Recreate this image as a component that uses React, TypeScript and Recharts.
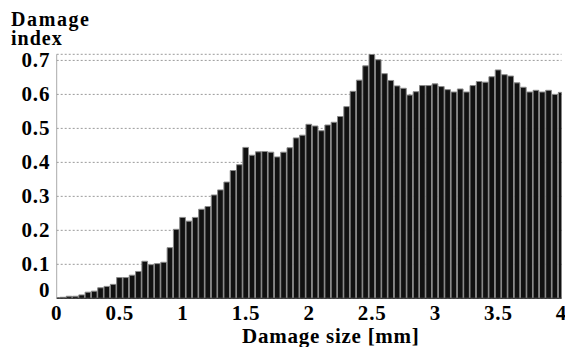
import React from 'react';
import { BarChart, Bar, XAxis, YAxis, CartesianGrid, Label } from 'recharts';

const sizes = [
  0, 0.05, 0.1, 0.15, 0.2, 0.25, 0.3, 0.35, 0.4, 0.45,
  0.5, 0.55, 0.6, 0.65, 0.7, 0.75, 0.8, 0.85, 0.9, 0.95,
  1.0, 1.05, 1.1, 1.15, 1.2, 1.25, 1.3, 1.35, 1.4, 1.45,
  1.5, 1.55, 1.6, 1.65, 1.7, 1.75, 1.8, 1.85, 1.9, 1.95,
  2.0, 2.05, 2.1, 2.15, 2.2, 2.25, 2.3, 2.35, 2.4, 2.45,
  2.5, 2.55, 2.6, 2.65, 2.7, 2.75, 2.8, 2.85, 2.9, 2.95,
  3.0, 3.05, 3.1, 3.15, 3.2, 3.25, 3.3, 3.35, 3.4, 3.45,
  3.5, 3.55, 3.6, 3.65, 3.7, 3.75, 3.8, 3.85, 3.9, 3.95,
  4.0,
];

const damageIndex = [
  0.002, 0.003, 0.006, 0.006, 0.010, 0.018, 0.021, 0.031, 0.035, 0.041,
  0.061, 0.061, 0.068, 0.079, 0.109, 0.099, 0.102, 0.106, 0.149, 0.203,
  0.238, 0.227, 0.238, 0.262, 0.270, 0.304, 0.319, 0.342, 0.376, 0.393,
  0.444, 0.421, 0.431, 0.432, 0.430, 0.416, 0.430, 0.443, 0.472, 0.480,
  0.512, 0.507, 0.493, 0.510, 0.518, 0.535, 0.564, 0.609, 0.642, 0.684,
  0.718, 0.702, 0.661, 0.641, 0.625, 0.618, 0.598, 0.608, 0.626, 0.626,
  0.631, 0.623, 0.614, 0.607, 0.616, 0.607, 0.626, 0.638, 0.636, 0.652,
  0.672, 0.658, 0.654, 0.634, 0.621, 0.607, 0.612, 0.607, 0.612, 0.600,
  0.606,
];

const xTicks = [0, 0.5, 1, 1.5, 2, 2.5, 3, 3.5, 4];
const yTicks = [0, 0.1, 0.2, 0.3, 0.4, 0.5, 0.6, 0.7];

const data = sizes.map((s, i) => ({ size: s, value: damageIndex[i] }));

const FONT = '"Liberation Serif", "Times New Roman", serif';

const YTick = (props: any) => {
  const { x, y, payload } = props;
  const dy = payload.value === 0 ? -1 : 7;
  return (
    <text x={x} y={y + dy} textAnchor="end" fontFamily={FONT} fontWeight="bold" fontSize={21} letterSpacing={0.8} fill="#000">
      {String(payload.value)}
    </text>
  );
};

const XTick = (props: any) => {
  const { x, y, payload } = props;
  return (
    <text x={x} y={y + 14} textAnchor="middle" fontFamily={FONT} fontWeight="bold" fontSize={21} letterSpacing={0.8} fill="#000">
      {String(payload.value)}
    </text>
  );
};

const YTitle = () => (
  <g>
    <text x={11} y={26} fontFamily={FONT} fontWeight="bold" fontSize={20} letterSpacing={1.6} fill="#000">Damage</text>
    <text x={11} y={45} fontFamily={FONT} fontWeight="bold" fontSize={20} letterSpacing={1} fill="#000">index</text>
  </g>
);

const XTitle = () => (
  <text x={242} y={343} fontFamily={FONT} fontWeight="bold" fontSize={21} letterSpacing={0.75} fill="#000">
    Damage size [mm]
  </text>
);

export default function App() {
  return (
    <div style={{ position: 'absolute', left: 0, top: 0, width: 565, height: 347, background: '#fff' }}>
      <BarChart
        width={565}
        height={347}
        data={data}
        margin={{ top: 54.3, right: 3.5, left: 0, bottom: 0 }}
        barCategoryGap={0}
        barGap={0}
      >
        <CartesianGrid vertical={false} stroke="#9a9a9a" strokeDasharray="2 2" yAxisId="left" />
        <XAxis
          dataKey="size"
          type="number"
          domain={[0, 4]}
          ticks={xTicks}
          allowDataOverflow
          height={48.7}
          tickSize={6}
          tickMargin={2}
          tickLine={false}
          axisLine={{ stroke: '#222' }}
          tick={<XTick />}
          interval={0}
        >
          <Label content={<XTitle />} />
        </XAxis>
        <XAxis
          xAxisId="top"
          orientation="top"
          dataKey="size"
          type="number"
          domain={[0, 4]}
          ticks={xTicks}
          allowDataOverflow
          height={0}
          mirror
          tickSize={4}
          tickFormatter={() => ''}
          axisLine={{ stroke: '#aaa' }}
          tickLine={{ stroke: '#999' }}
        />
        <YAxis
          yAxisId="left"
          type="number"
          domain={[0, 0.718]}
          ticks={yTicks}
          allowDataOverflow
          width={56.7}
          tickSize={6}
          tickMargin={0.5}
          tickLine={false}
          axisLine={{ stroke: '#aaa' }}
          tick={<YTick />}
          interval={0}
        >
          <Label content={<YTitle />} />
        </YAxis>
        <YAxis
          yAxisId="right"
          orientation="right"
          type="number"
          domain={[0, 0.718]}
          ticks={yTicks}
          allowDataOverflow
          width={0}
          mirror
          tickSize={3}
          tickFormatter={() => ''}
          axisLine={{ stroke: '#aaa' }}
          tickLine={{ stroke: '#aaa' }}
        />
        <Bar
          dataKey="value"
          yAxisId="left"
          fill="#111"
          stroke="#8a8a8a"
          strokeWidth={1}
          barSize={6.31}
          isAnimationActive={false}
        />
      </BarChart>
    </div>
  );
}
